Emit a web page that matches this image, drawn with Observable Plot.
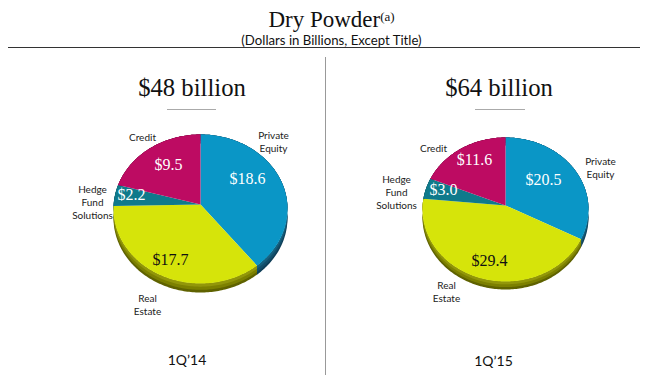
<!DOCTYPE html>
<html>
<head>
<meta charset="utf-8">
<script src="https://cdn.jsdelivr.net/npm/d3@7"></script>
<script src="https://cdn.jsdelivr.net/npm/@observablehq/plot@0.6"></script>
<style>
  html, body { margin: 0; padding: 0; background: #fff; }
  #page { position: relative; width: 650px; height: 375px; overflow: hidden; color: #111; }
  #page > div { position: absolute; white-space: nowrap; }
  .serif { font-family: "Liberation Serif", serif; }
  .sans { font-family: Lato, sans-serif; }
  #chart { left: 0; top: 112px; }
  sup { font-size: 13px; line-height: 0; vertical-align: 6px; }
</style>
</head>
<body>
<div id="page">
  <div class="serif" id="title" style="left:0;width:663px;text-align:center;top:6px;font-size:23px;line-height:28px">Dry Powder<sup>(a)</sup></div>
  <div class="sans" id="sub" style="left:0;width:663px;text-align:center;top:33px;font-size:13.2px;line-height:15px">(Dollars in Billions, Except Title)</div>
  <div style="left:8px;width:632px;top:47px;height:1px;background:#333"></div>
  <div style="left:325px;width:1px;top:57px;height:318px;background:#999"></div>
  <div class="serif total" id="t0" style="left:92px;width:200px;text-align:center;top:72px;font-size:24.7px;line-height:32px"></div>
  <div style="left:167px;width:49px;top:109px;height:1px;background:#aaa"></div>
  <div class="serif total" id="t1" style="left:399px;width:200px;text-align:center;top:72px;font-size:24.7px;line-height:32px"></div>
  <div style="left:475px;width:50px;top:109px;height:1px;background:#aaa"></div>
  <div id="chart"></div>
</div>
<script>
// ---- data ----
const categories = ["Private Equity", "Real Estate", "Hedge Fund Solutions", "Credit"];
const values14 = [18.6, 17.7, 2.2, 9.5];
const values15 = [20.5, 29.4, 3.0, 11.6];
const totals = ["$48 billion", "$64 billion"];
const periods = ["1Q\u201914", "1Q\u201915"];

// ---- styles ----
const topColors = ["#0a96c6", "#d6e40a", "#0f7a8b", "#bd0b62"];
// side bands, from the lower rim of the pie upward
const sideBands = [
  { share: 1,    colors: ["#0f3f58", "#5f6200", "#0c5560", "#7a0840"] },
  { share: 0.7,  colors: ["#124f6b", "#7c8000", "#0c5560", "#7a0840"] },
  { share: 0.35, colors: ["#17617f", "#92960a", "#0c5560", "#7a0840"] }
];
const valueInk = ["#fff", "#111", "#fff", "#fff"];

// ---- layout (page pixels) ----
const pies = [
  { values: values14, cx: 200, apexY: 204, cy: 208.5, rx: 87, ry: 74.5, depth: 9, periodX: 186.5, periodY: 360,
    valueAt: [[247,178],[170,259],[131,194],[168,164]],
    labelAt: [[273,141],[147,304],[92,201],[142,136]] },
  { values: values15, cx: 505, apexY: 205, cy: 209, rx: 83, ry: 72, depth: 8, periodX: 493, periodY: 361,
    valueAt: [[543,179],[489,260],[443,189],[474,159]],
    labelAt: [[600,167],[446,291],[396,191],[433,147]] }
];
const labelLines = [["Private","Equity"],["Real","Estate"],["Hedge","Fund","Solutions"],["Credit"]];

document.getElementById("t0").textContent = totals[0];
document.getElementById("t1").textContent = totals[1];

function arcPoints(p, a0, a1, dy) {
  const n = Math.max(2, Math.ceil((a1 - a0) / 0.02));
  return d3.range(n + 1).map(i => {
    const a = a0 + (a1 - a0) * i / n;
    return { x: p.cx + p.rx * Math.sin(a), y: p.cy - p.ry * Math.cos(a) + dy };
  });
}

const marks = [];
pies.forEach((p, k) => {
  const arcs = d3.pie().sort(null)(p.values);
  // extruded side
  sideBands.forEach(band => {
    arcs.forEach((s, i) => {
      const outer = arcPoints(p, s.startAngle, s.endAngle, 0);
      const lower = arcPoints(p, s.startAngle, s.endAngle, p.depth * band.share).reverse();
      marks.push(Plot.line(outer.concat(lower), { x: "x", y: "y", fill: band.colors[i], stroke: "none" }));
    });
  });
  // top surface
  arcs.forEach((s, i) => {
    const poly = [{ x: p.cx, y: p.apexY }, ...arcPoints(p, s.startAngle, s.endAngle, 0)];
    marks.push(Plot.line(poly, { x: "x", y: "y", fill: topColors[i], stroke: "none" }));
  });
  // value labels
  marks.push(Plot.text(p.values, {
    x: (d, i) => p.valueAt[i][0], y: (d, i) => p.valueAt[i][1],
    text: d => "$" + d.toFixed(1),
    fill: (d, i) => valueInk[i],
    fontFamily: "Liberation Serif", fontSize: 16
  }));
  // category labels
  marks.push(Plot.text(categories, {
    x: (d, i) => p.labelAt[i][0], y: (d, i) => p.labelAt[i][1],
    text: (d, i) => labelLines[i].join("\n"),
    lineHeight: 1.3,
    fill: "#222", fontFamily: "Lato", fontSize: 10
  }));
  // period caption
  marks.push(Plot.text([periods[k]], {
    x: () => p.periodX, y: () => p.periodY, text: d => d,
    fill: "#111", fontFamily: "Lato", fontSize: 14
  }));
});

const chart = Plot.plot({
  width: 650, height: 263,
  margin: 0,
  x: { domain: [0, 650], range: [0, 650], axis: null },
  y: { domain: [112, 375], range: [0, 263], axis: null },
  marks
});
document.getElementById("chart").appendChild(chart);
</script>
</body>
</html>
